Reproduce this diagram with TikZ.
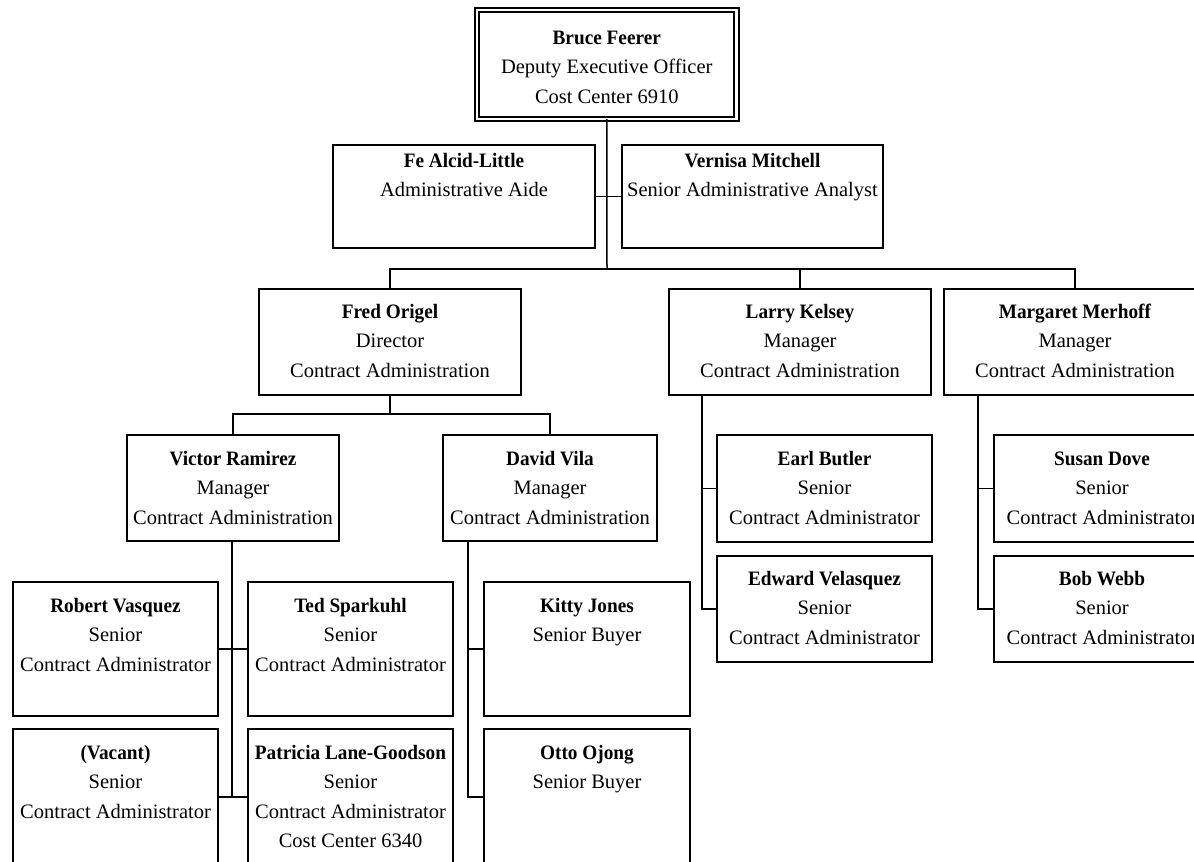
\documentclass[tikz,border=0pt]{standalone}
\usepackage{fontspec}
\setmainfont{Liberation Serif}[BoldFeatures={FakeStretch=0.94}]
\usetikzlibrary{fit}
\newcommand\orgbox[7]{%
  \node[box, fit={(#2,#3) (#4,#5)}] (#1) {};
  \node[txt] (#1t) at ([yshift=-#6pt]#1.north) {\parbox[t]{\dimexpr#4pt-#2pt+30pt\relax}{\centering #7}};
}
\begin{document}
\begin{tikzpicture}[x=1pt,y=-1pt,
  box/.style={draw, line width=1.8pt, inner sep=0pt, outer sep=0pt},
  topbox/.style={box, line width=2pt, double=white, double distance=2.4pt},
  txt/.style={inner sep=0pt, anchor=base, font=\fontsize{20.5}{29.5}\selectfont},
  link/.style={line width=1.5pt}]
\useasboundingbox (0,0) rectangle (1194,862);
\clip (0,0) rectangle (1194,862);
\fill[white] (0,0) rectangle (1194,862);

% top
\node[topbox, fit={(477,10) (736.5,119)}] (bruce) {};
\node[txt] (brucet) at ([yshift=-34pt]bruce.north) {\parbox[t]{280pt}{\centering \textbf{Bruce Feerer}\\Deputy Executive Officer\\Cost Center 6910}};

\orgbox{fe}{333}{145}{595}{248}{22}{\textbf{Fe Alcid-Little}\\Administrative Aide}
\orgbox{vernisa}{622}{145}{883}{248}{22}{\textbf{Vernisa Mitchell}\\Senior Administrative Analyst}

\orgbox{fred}{259}{289}{521}{395}{29}{\textbf{Fred Origel}\\Director\\Contract Administration}
\orgbox{larry}{669}{289}{931}{395}{29}{\textbf{Larry Kelsey}\\Manager\\Contract Administration}
\orgbox{margaret}{944}{289}{1206}{395}{29}{\textbf{Margaret Merhoff}\\Manager\\Contract Administration}

\orgbox{victor}{127}{435}{339}{541}{30}{\textbf{Victor Ramirez}\\Manager\\Contract Administration}
\orgbox{david}{443}{435}{657}{541}{30}{\textbf{David Vila}\\Manager\\Contract Administration}

\orgbox{robert}{13}{582}{218}{716}{30}{\textbf{Robert Vasquez}\\Senior\\Contract Administrator}
\orgbox{ted}{248}{582}{453}{716}{30}{\textbf{Ted Sparkuhl}\\Senior\\Contract Administrator}
\orgbox{vacant}{13}{729}{218}{865}{30}{\textbf{(Vacant)}\\Senior\\Contract Administrator}
\orgbox{patricia}{248}{729}{453}{865}{30}{\textbf{Patricia Lane-Goodson}\\Senior\\Contract Administrator\\Cost Center 6340}

\orgbox{kitty}{484}{582}{690}{716}{30}{\textbf{Kitty Jones}\\Senior Buyer}
\orgbox{otto}{484}{729}{690}{865}{30}{\textbf{Otto Ojong}\\Senior Buyer}

\orgbox{earl}{717}{435}{932}{542}{30}{\textbf{Earl Butler}\\Senior\\Contract Administrator}
\orgbox{edward}{717}{556}{932}{662}{29}{\textbf{Edward Velasquez}\\Senior\\Contract Administrator}
\orgbox{susan}{994}{435}{1210}{542}{30}{\textbf{Susan Dove}\\Senior\\Contract Administrator}
\orgbox{bob}{994}{556}{1210}{662}{29}{\textbf{Bob Webb}\\Senior\\Contract Administrator}

% connectors
\coordinate (bus1) at (607,269);
\coordinate (bus2) at (390,414);
\draw[link] (bruce.south) -- (bus1);
\draw[link] (fe.east) -- (vernisa.west);
\draw[link] (fred.north) -- (fred.north |- bus1) -- (margaret.north |- bus1) -- (margaret.north);
\draw[link] (larry.north) -- (larry.north |- bus1);

\draw[link] (fred.south) -- (bus2);
\draw[link] (victor.north) |- (bus2) -| (david.north);

\draw[link] ([xshift=-1pt]victor.south) -- ([xshift=-1pt]victor.south |- patricia.west);
\draw[link] (robert.east) -- (ted.west);
\draw[link] (vacant.east) -- (patricia.west);

\draw[link] ([xshift=-82pt]david.south) |- (otto.west);
\draw[link] ([xshift=-82pt]david.south |- kitty.west) -- (kitty.west);

\draw[link] ([xshift=-98pt]larry.south) |- (edward.west);
\draw[link] ([xshift=-98pt]larry.south |- earl.west) -- (earl.west);

\draw[link] ([xshift=-97pt]margaret.south) |- (bob.west);
\draw[link] ([xshift=-97pt]margaret.south |- susan.west) -- (susan.west);
\end{tikzpicture}
\end{document}
